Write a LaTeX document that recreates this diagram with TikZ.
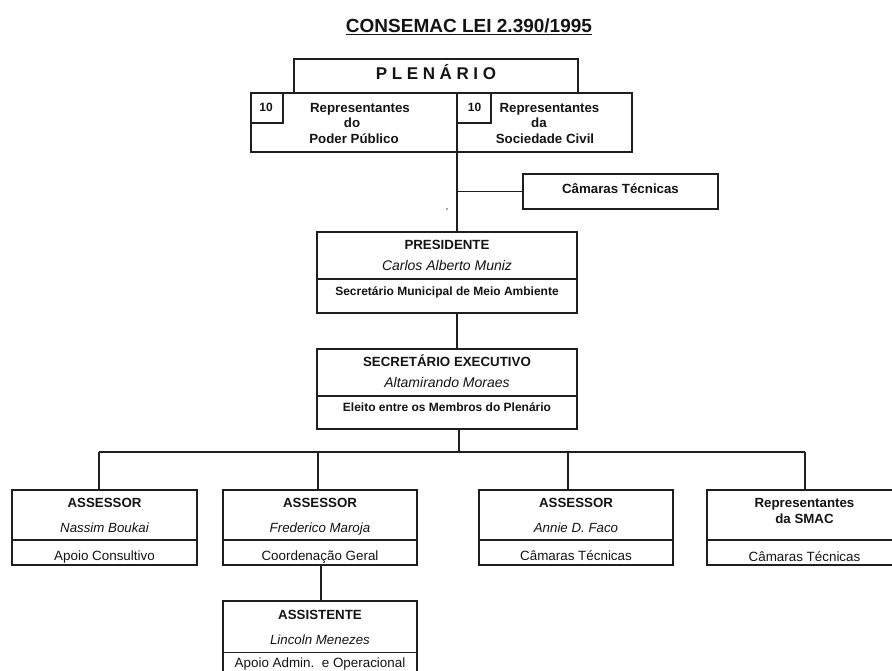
\documentclass[tikz,border=0pt]{standalone}
\usepackage{fontspec}
\setmainfont{Liberation Sans}
\begin{document}
\begin{tikzpicture}[x=1pt,y=-1pt,
  box/.style={draw=black!88, line width=1.3pt, anchor=north west, inner sep=0pt, outer sep=0pt},
  conn/.style={draw=black!88, line width=1.3pt},
  txt/.style={anchor=base, inner sep=0pt, text=black!92},
  ttl/.style={txt, font=\fontsize{19}{22}\selectfont\bfseries},
  plen/.style={txt, font=\fontsize{17}{20}\selectfont\bfseries},
  hd/.style={txt, font=\fontsize{13.3}{16}\selectfont\bfseries},
  sm/.style={txt, font=\fontsize{12}{14}\selectfont\bfseries},
  nm/.style={txt, font=\fontsize{13.3}{16}\selectfont\itshape},
  rg/.style={txt, font=\fontsize{13.4}{16}\selectfont}]
\useasboundingbox (0,0) rectangle (892,671);
\clip (0,0) rectangle (892,671);
\fill[white] (0,0) rectangle (892,671);

% title
\node[ttl] (title) at (469,32.8) {CONSEMAC LEI 2.390/1995};
\draw[line width=1.6pt, black!90] ([yshift=-1.8pt]title.base west) -- ([yshift=-1.8pt]title.base east);

% Plenario
\node[box, minimum width=284pt, minimum height=34pt] (plenario) at (294,59) {};
\def\ls{\hspace{4.6pt}}
\node[plen] (plentxt) at (436,79.8) {P\ls L\ls E\ls N\ls Á\ls R\ls I\ls O};

% representantes
\node[box, minimum width=206pt, minimum height=59pt] (repL) at (251,93) {};
\node[box, minimum width=175pt, minimum height=59pt] (repR) at (457,93) {};
\node[box, minimum width=32pt, minimum height=30pt] (numL) at (251,93) {};
\node[box, minimum width=34pt, minimum height=30pt] (numR) at (457,93) {};
\node[sm] (numLt) at (266,111.3) {10};
\node[sm] (numRt) at (474.5,111.3) {10};
\node[hd] (repL1) at (360,112.2) {Representantes};
\node[hd] (repL2) at (352,127.7) {do};
\node[hd] (repL3) at (354,143.7) {Poder Público};
\node[hd] (repR1) at (549.5,112.2) {Representantes};
\node[hd] (repR2) at (539,127.7) {da};
\node[hd] (repR3) at (545,143.7) {Sociedade Civil};

% camaras tecnicas
\node[box, minimum width=195pt, minimum height=35pt] (cam) at (523,174) {};
\node[hd] (camt) at (620.5,193.7) {Câmaras Técnicas};

% stray dot
\fill[black!70] (447,209) circle (0.8pt);

% presidente
\node[box, minimum width=260pt, minimum height=81pt] (pres) at (317,232) {};
\draw[conn] ([yshift=34pt]pres.south west) -- ([yshift=34pt]pres.south east);
\node[hd] (pres1) at (447,249.7) {PRESIDENTE};
\node[nm, font=\fontsize{14}{17}\selectfont\itshape] (pres2) at (447,270.3) {Carlos Alberto Muniz};
\node[sm] (pres3) at (447,295.3) {Secretário Municipal de Meio Ambiente};

% secretario executivo
\node[box, minimum width=260pt, minimum height=80pt] (sec) at (317,349) {};
\draw[conn] ([yshift=33pt]sec.south west) -- ([yshift=33pt]sec.south east);
\node[hd] (sec1) at (447,366.8) {SECRETÁRIO EXECUTIVO};
\node[nm, font=\fontsize{14}{17}\selectfont\itshape] (sec2) at (447,387) {Altamirando Moraes};
\node[sm] (sec3) at (447,411.3) {Eleito entre os Membros do Plenário};

% bottom boxes
\node[box, minimum width=185pt, minimum height=75pt] (b1) at (12,490) {};
\node[box, minimum width=194pt, minimum height=75pt] (b2) at (223,490) {};
\node[box, minimum width=194pt, minimum height=75pt] (b4) at (479,490) {};
\node[box, minimum width=195pt, minimum height=75pt] (b5) at (707,490) {};
\node[box, minimum width=194pt, minimum height=80pt] (b3) at (223,601) {};
\foreach \b in {b1,b2,b4,b5}{
  \draw[conn] ([yshift=25pt]\b.south west) -- ([yshift=25pt]\b.south east);
}
\draw[conn] ([yshift=28.5pt]b3.south west) -- ([yshift=28.5pt]b3.south east);

\node[hd] (b1a) at (104.5,507.8) {ASSESSOR};
\node[nm] (b1b) at (104.5,532.7) {Nassim Boukai};
\node[rg] (b1c) at (104.5,560.8) {Apoio Consultivo};

\node[hd] (b2a) at (320,507.8) {ASSESSOR};
\node[nm] (b2b) at (320,532.7) {Frederico Maroja};
\node[rg] (b2c) at (320,560.8) {Coordenação Geral};

\node[hd] (b4a) at (576,507.8) {ASSESSOR};
\node[nm] (b4b) at (576,532.7) {Annie D. Faco};
\node[rg] (b4c) at (576,560.8) {Câmaras Técnicas};

\node[hd] (b5a) at (804.5,507.8) {Representantes};
\node[hd] (b5b) at (804.5,523.8) {da SMAC};
\node[rg] (b5c) at (804.5,561.8) {Câmaras Técnicas};

\node[hd] (b3a) at (320,619.8) {ASSISTENTE};
\node[nm] (b3b) at (320,644.7) {Lincoln Menezes};
\node[rg] (b3c) at (320,667.8) {Apoio Admin.\ \ e Operacional};

% connectors
\coordinate (spine) at (457,0);
\coordinate (barL) at (99,452);
\coordinate (barR) at (805,452);
\coordinate (d2) at (318,452);
\coordinate (d4) at (568,452);
\coordinate (sp2) at (459,0);
\coordinate (sp3) at (321,0);
\draw[conn] (repL.south east) -- (pres.north -| repL.south east);
\draw[conn] (cam.west -| repL.south east) -- (cam.west);
\draw[conn] (pres.south -| spine) -- (sec.north -| spine);
\draw[conn] (sec.south -| sp2) -- (barL -| sp2);
\draw[conn] (barL) -- (barR);
\draw[conn] (barL) -- (b1.north -| barL);
\draw[conn] (d2) -- (b2.north -| d2);
\draw[conn] (d4) -- (b4.north -| d4);
\draw[conn] (barR) -- (b5.north -| barR);
\draw[conn] (b2.south -| sp3) -- (b3.north -| sp3);
\end{tikzpicture}
\end{document}
